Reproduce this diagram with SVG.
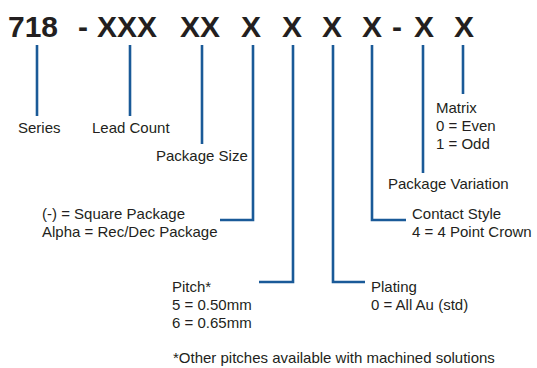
<svg xmlns="http://www.w3.org/2000/svg" width="537" height="368" viewBox="0 0 537 368">
<style>
.t{font-family:"Liberation Sans",Arial,sans-serif;font-size:15px;fill:#231f20}
.h{font-family:"Liberation Sans",Arial,sans-serif;font-size:30px;font-weight:bold;fill:#231f20;text-anchor:middle}
.c{fill:none;stroke:#1a5a98;stroke-width:2.6}
</style>
<rect width="537" height="368" fill="#fff"/>
<g id="title">
<text class="h" x="33" y="37">718</text>
<text class="h" x="83" y="37">-</text>
<text class="h" x="127" y="37">XXX</text>
<text class="h" x="200" y="37">XX</text>
<text class="h" x="251" y="37">X</text>
<text class="h" x="292" y="37">X</text>
<text class="h" x="332" y="37">X</text>
<text class="h" x="372" y="37">X</text>
<text class="h" x="397" y="37">-</text>
<text class="h" x="424" y="37">X</text>
<text class="h" x="464" y="37">X</text>
</g>
<g id="connectors">
<path class="c" d="M37 45V116"/>
<path class="c" d="M130 45V116"/>
<path class="c" d="M202 45V144"/>
<path class="c" d="M253 45V220H220"/>
<path class="c" d="M293 45V282H259"/>
<path class="c" d="M333 45V282H365"/>
<path class="c" d="M372 45V220H406"/>
<path class="c" d="M423 45V173"/>
<path class="c" d="M463 45V94"/>
</g>
<g id="series"><text class="t" x="18" y="133">Series</text></g>
<g id="lead-count"><text class="t" x="92" y="133">Lead Count</text></g>
<g id="package-size"><text class="t" x="156" y="161">Package Size</text></g>
<g id="package-type"><text class="t" x="42" y="219">(-) = Square Package</text><text class="t" x="42" y="237">Alpha = Rec/Dec Package</text></g>
<g id="pitch"><text class="t" x="172" y="292">Pitch*</text><text class="t" x="172" y="310">5 = 0.50mm</text><text class="t" x="172" y="328">6 = 0.65mm</text></g>
<g id="plating"><text class="t" x="371" y="292">Plating</text><text class="t" x="371" y="310">0 = All Au (std)</text></g>
<g id="contact-style"><text class="t" x="412" y="219">Contact Style</text><text class="t" x="412" y="237">4 = 4 Point Crown</text></g>
<g id="package-variation"><text class="t" x="388" y="189">Package Variation</text></g>
<g id="matrix"><text class="t" x="436" y="113">Matrix</text><text class="t" x="436" y="131">0 = Even</text><text class="t" x="436" y="149">1 = Odd</text></g>
<g id="footnote"><text class="t" x="173" y="363">*Other pitches available with machined solutions</text></g>
</svg>
